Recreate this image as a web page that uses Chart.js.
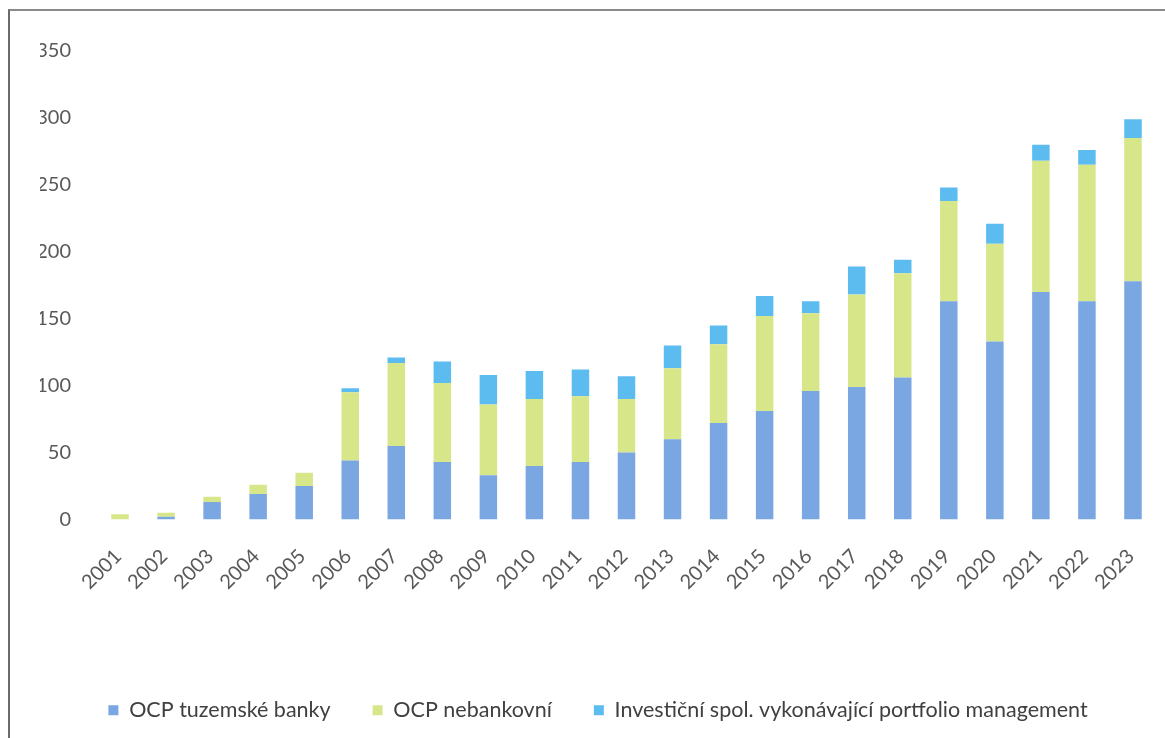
<!DOCTYPE html>
<html>
<head>
<meta charset="utf-8">
<script src="https://cdn.jsdelivr.net/npm/chart.js@4.4.1/dist/chart.umd.min.js"></script>
<style>
  html, body { margin: 0; padding: 0; background: #fff; overflow: hidden; }
  #frame {
    position: absolute; left: 8px; top: 9px; width: 1200px; height: 760px;
    border-left: 2px solid #6a6a6a; border-top: 2px solid #8a8a8a;
  }
  #wrap { position: absolute; left: 0; top: 0; width: 1165px; height: 738px; }
</style>
</head>
<body>
<div id="frame"></div>
<div id="wrap"><canvas id="c" width="1165" height="738"></canvas></div>
<script>
// Years on the category axis
const years = ['2001','2002','2003','2004','2005','2006','2007','2008','2009','2010','2011','2012',
               '2013','2014','2015','2016','2017','2018','2019','2020','2021','2022','2023'];

// OCP tuzemské banky
const banky = [0, 2, 13, 19, 25, 44, 55, 43, 33, 40, 43, 50, 60, 72, 81, 96, 99, 106, 163, 133, 170, 163, 178];
// OCP nebankovní
const nebankovni = [4, 3, 4, 7, 10, 51, 62, 59, 53, 50, 49, 40, 53, 59, 71, 58, 69, 78, 75, 73, 98, 102, 107];
// Investiční spol. vykonávající portfolio management
const investicni = [0, 0, 0, 0, 0, 3, 4, 16, 22, 21, 20, 17, 17, 14, 15, 9, 21, 10, 10, 15, 12, 11, 14];

const seriesNames = ['OCP tuzemské banky', 'OCP nebankovní', 'Investiční spol. vykonávající portfolio management'];
const seriesColors = ['#7aa7e2', '#d8e68a', '#5cbcf0'];

const yTicks = { min: 0, max: 350, step: 50 };

const FONT = 'Lato, "Open Sans", sans-serif';

// Lifts the legend row a little above its default spot
const legendNudge = {
  id: 'legendNudge',
  afterLayout(chart) {
    const lg = chart.legend;
    if (!lg) return;
    lg.top -= 7; lg.bottom -= 7;
  }
};

new Chart(document.getElementById('c'), {
  type: 'bar',
  data: {
    labels: years,
    datasets: [banky, nebankovni, investicni].map((d, i) => ({
      label: seriesNames[i],
      data: d,
      backgroundColor: seriesColors[i],
      borderWidth: 0,
      categoryPercentage: 1,
      barPercentage: 0.38
    }))
  },
  plugins: [legendNudge],
  options: {
    responsive: false,
    animation: false,
    layout: { padding: { top: 51, right: 9, bottom: 0, left: 40 } },
    plugins: {
      tooltip: { enabled: false },
      legend: {
        position: 'bottom',
        labels: {
          boxWidth: 10, boxHeight: 10, padding: 42,
          color: '#404040',
          font: { family: FONT, size: 21.5 }
        }
      }
    },
    scales: {
      x: {
        stacked: true,
        grid: { display: false, drawTicks: false },
        border: { display: false },
        ticks: {
          minRotation: 45, maxRotation: 45, padding: 25, labelOffset: -2,
          color: '#595959',
          font: { family: FONT, size: 20 }
        },
        afterFit(scale) {
          scale.height = 145;
          scale.paddingLeft = 0;
          scale.paddingRight = 0;
        }
      },
      y: {
        stacked: true,
        min: yTicks.min, max: yTicks.max,
        grid: { display: false, drawTicks: false },
        border: { display: false },
        ticks: {
          stepSize: yTicks.step, padding: 26,
          color: '#595959',
          font: { family: FONT, size: 20 }
        },
        afterFit(scale) { scale.width = 57; }
      }
    }
  }
});
</script>
</body>
</html>
